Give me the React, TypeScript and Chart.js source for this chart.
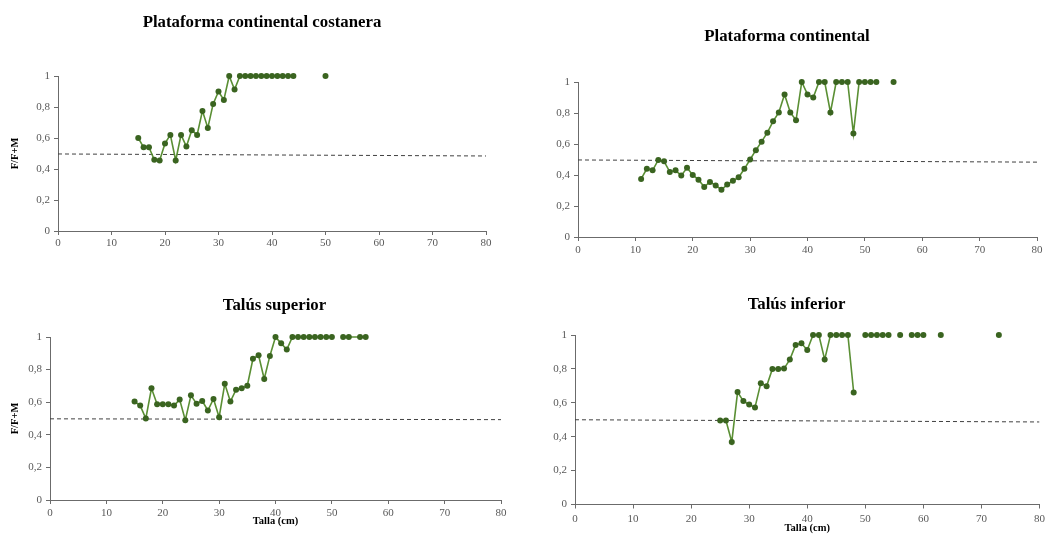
import React, { useEffect, useRef } from 'react';
import { Chart, registerables } from 'chart.js';

Chart.register(...registerables);

// ---------- Data ----------
const tallas1 = [15, 16, 17, 18, 19, 20, 21, 22, 23, 24, 25, 26, 27, 28, 29, 30, 31, 32, 33, 34, 35, 36, 37, 38, 39, 40, 41, 42, 43, 44, 45, 46, 47, 48, 49, 50];
const valores1 = [0.6, 0.54, 0.54, 0.46, 0.455, 0.565, 0.62, 0.455, 0.62, 0.545, 0.65, 0.62, 0.775, 0.665, 0.82, 0.9, 0.845, 1, 0.913, 1, 1, 1, 1, 1, 1, 1, 1, 1, 1, 1, null, null, null, null, null, 1];

const tallas2 = [11, 12, 13, 14, 15, 16, 17, 18, 19, 20, 21, 22, 23, 24, 25, 26, 27, 28, 29, 30, 31, 32, 33, 34, 35, 36, 37, 38, 39, 40, 41, 42, 43, 44, 45, 46, 47, 48, 49, 50, 51, 52, 53, 54, 55];
const valores2 = [0.375, 0.44, 0.43, 0.497, 0.488, 0.42, 0.43, 0.396, 0.447, 0.4, 0.37, 0.323, 0.355, 0.333, 0.305, 0.338, 0.363, 0.385, 0.44, 0.5, 0.56, 0.615, 0.673, 0.746, 0.804, 0.92, 0.804, 0.753, 1, 0.92, 0.9, 1, 1, 0.804, 1, 1, 1, 0.667, 1, 1, 1, 1, null, null, 1];

const tallas3 = [15, 16, 17, 18, 19, 20, 21, 22, 23, 24, 25, 26, 27, 28, 29, 30, 31, 32, 33, 34, 35, 36, 37, 38, 39, 40, 41, 42, 43, 44, 45, 46, 47, 48, 49, 50, 51, 52, 53, 54, 55, 56];
const valores3 = [0.604, 0.579, 0.5, 0.685, 0.587, 0.587, 0.587, 0.579, 0.616, 0.49, 0.642, 0.591, 0.608, 0.549, 0.62, 0.508, 0.713, 0.604, 0.677, 0.685, 0.701, 0.866, 0.888, 0.742, 0.884, 1, 0.961, 0.923, 1, 1, 1, 1, 1, 1, 1, 1, null, 1, 1, 1, 1, 1];
const sinMarcador3 = [54];

const tallas4 = [25, 26, 27, 28, 29, 30, 31, 32, 33, 34, 35, 36, 37, 38, 39, 40, 41, 42, 43, 44, 45, 46, 47, 48, 49, 50, 51, 52, 53, 54, 55, 56, 57, 58, 59, 60, 61, 62, 63, 64, 65, 66, 67, 68, 69, 70, 71, 72, 73];
const valores4 = [0.496, 0.496, 0.369, 0.663, 0.61, 0.59, 0.573, 0.716, 0.698, 0.8, 0.8, 0.802, 0.855, 0.941, 0.951, 0.912, 1, 1, 0.855, 1, 1, 1, 1, 0.661, null, 1, 1, 1, 1, 1, null, 1, null, 1, 1, 1, null, null, 1, null, null, null, null, null, null, null, null, null, 1];

const tendenciaX = [0, 80];
const tendencia1 = [0.497, 0.484];
const tendencia2 = [0.497, 0.483];
const tendencia3 = [0.498, 0.493];
const tendencia4 = [0.5, 0.487];

const xTicks = [0, 10, 20, 30, 40, 50, 60, 70, 80];
const yTicks = [0, 0.2, 0.4, 0.6, 0.8, 1];

const titulos = ['Plataforma continental costanera', 'Plataforma continental', 'Talús superior', 'Talús inferior'];
const tituloY = 'F/F+M';
const tituloX = 'Talla (cm)';

// ---------- Styles ----------
const SERIF = "'Liberation Serif', 'Times New Roman', serif";
const LINE = '#5a8f34';
const MARK = '#3a6420';
const AXIS = '#6b6b6b';
const TICKTXT = '#595959';

type PanelCfg = {
  left: number; top: number; width: number; height: number;
  yW: number; xH: number; padRight: number; padTop: number;
  titleX: number; titleY: number;
  xs: number[]; ys: (number | null)[]; trend: number[];
  hidden?: number[];
  title: string; showYTitle: boolean; showXTitle: boolean;
  xTickPad: number; xTitlePadBottom: number;
};

const panels: PanelCfg[] = [
  { left: 0, top: 0, width: 524, height: 262, yW: 58, xH: 31, padRight: 38, padTop: 76, titleX: 262, titleY: 22.5,
    xs: tallas1, ys: valores1, trend: tendencia1, title: titulos[0], showYTitle: true, showXTitle: false, xTickPad: 2, xTitlePadBottom: 0 },
  { left: 525, top: 0, width: 524, height: 268, yW: 53, xH: 31, padRight: 12, padTop: 82, titleX: 262, titleY: 36.5,
    xs: tallas2, ys: valores2, trend: tendencia2, title: titulos[1], showYTitle: false, showXTitle: false, xTickPad: 3, xTitlePadBottom: 0 },
  { left: 0, top: 270, width: 548, height: 264, yW: 50, xH: 34, padRight: 47, padTop: 67, titleX: 274.5, titleY: 35.5,
    xs: tallas3, ys: valores3, trend: tendencia3, hidden: sinMarcador3, title: titulos[2], showYTitle: true, showXTitle: true, xTickPad: 3, xTitlePadBottom: 7 },
  { left: 545, top: 270, width: 504, height: 264, yW: 30, xH: 29.5, padRight: 5, padTop: 65, titleX: 251.5, titleY: 34.5,
    xs: tallas4, ys: valores4, trend: tendencia4, title: titulos[3], showYTitle: false, showXTitle: true, xTickPad: 4, xTitlePadBottom: 0 },
];

function Panel({ cfg }: { cfg: PanelCfg }) {
  const ref = useRef<HTMLCanvasElement | null>(null);
  useEffect(() => {
    if (!ref.current) return;
    const pts = cfg.xs.map((x, i) => ({ x, y: cfg.ys[i] }));
    const radii = cfg.xs.map((x) => (cfg.hidden && cfg.hidden.includes(x) ? 0 : 3));
    const trendPts = tendenciaX.map((x, i) => ({ x, y: cfg.trend[i] }));
    const tickFont = { family: SERIF, size: 11 };
    const titlePlugin = {
      id: 'panelTitle',
      afterDraw(chart: any) {
        const ctx = chart.ctx;
        ctx.save();
        ctx.fillStyle = '#000';
        ctx.font = `bold 16.8px ${SERIF}`;
        ctx.textAlign = 'center';
        ctx.textBaseline = 'middle';
        ctx.fillText(cfg.title, cfg.titleX, cfg.titleY);
        ctx.restore();
      },
    };
    const chart = new Chart(ref.current, {
      type: 'line',
      data: {
        datasets: [
          {
            data: pts as any,
            borderColor: LINE,
            borderWidth: 1.6,
            pointRadius: radii,
            pointHoverRadius: radii,
            pointBackgroundColor: MARK,
            pointBorderColor: MARK,
            pointBorderWidth: 0,
            spanGaps: false,
            tension: 0,
            clip: false,
          },
          {
            data: trendPts as any,
            borderColor: '#404040',
            borderWidth: 1,
            borderDash: [4, 3],
            pointRadius: 0,
            pointHoverRadius: 0,
            tension: 0,
          },
        ],
      },
      options: {
        responsive: false,
        animation: false,
        events: [],
        layout: { padding: { left: 0, right: cfg.padRight, top: cfg.padTop, bottom: 0 } },
        plugins: {
          legend: { display: false },
          tooltip: { enabled: false },
          title: { display: false },
        },
        scales: {
          x: {
            type: 'linear',
            min: xTicks[0],
            max: xTicks[xTicks.length - 1],
            afterBuildTicks: (s: any) => { s.ticks = xTicks.map((v) => ({ value: v })); },
            ticks: { font: tickFont, color: TICKTXT, padding: cfg.xTickPad, maxRotation: 0, autoSkip: false },
            grid: { display: true, drawOnChartArea: false, drawTicks: true, tickLength: 4, color: AXIS },
            border: { display: true, color: AXIS, width: 1 },
            title: {
              display: cfg.showXTitle,
              text: tituloX,
              color: '#000',
              font: { family: SERIF, size: 10.5, weight: 'bold', lineHeight: 1 },
              padding: { top: 0, bottom: cfg.xTitlePadBottom },
            },
            afterFit: (s: any) => { s.height = cfg.xH; },
          },
          y: {
            type: 'linear',
            min: 0,
            max: 1,
            afterBuildTicks: (s: any) => { s.ticks = yTicks.map((v) => ({ value: v })); },
            ticks: {
              font: tickFont,
              color: TICKTXT,
              padding: 4,
              callback: (v: any) => String(Math.round(Number(v) * 10) / 10).replace('.', ','),
            },
            grid: { display: true, drawOnChartArea: false, drawTicks: true, tickLength: 4, color: AXIS },
            border: { display: true, color: AXIS, width: 1 },
            title: {
              display: cfg.showYTitle,
              text: tituloY,
              color: '#000',
              font: { family: SERIF, size: 10.5, weight: 'bold', lineHeight: 1.2 },
              padding: { top: 9, bottom: 0 },
            },
            afterFit: (s: any) => { s.width = cfg.yW; },
          },
        },
      } as any,
      plugins: [titlePlugin],
    });
    return () => chart.destroy();
  }, [cfg]);
  return (
    <canvas
      ref={ref}
      width={cfg.width}
      height={cfg.height}
      style={{ position: 'absolute', left: cfg.left, top: cfg.top, width: cfg.width, height: cfg.height }}
    />
  );
}

export default function App() {
  return (
    <div style={{ position: 'absolute', left: 0, top: 0, width: 1049, height: 534, background: '#fff', overflow: 'hidden' }}>
      {panels.map((p, i) => (
        <Panel key={i} cfg={p} />
      ))}
    </div>
  );
}
